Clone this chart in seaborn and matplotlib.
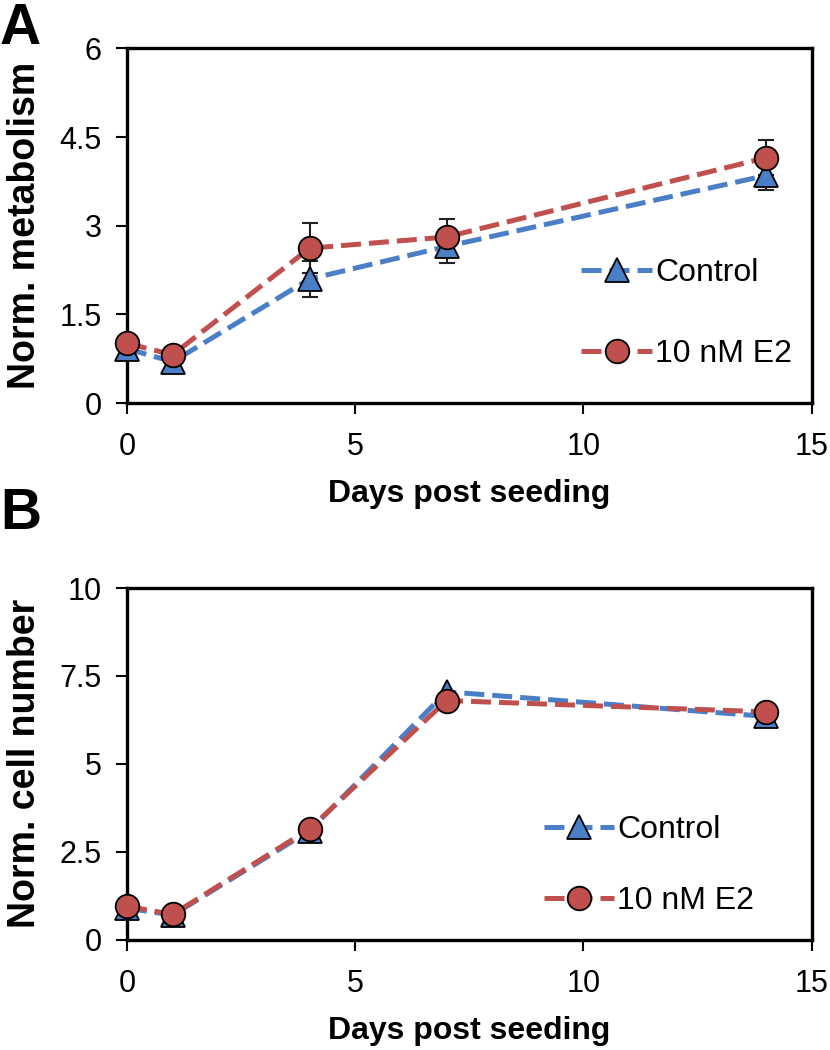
import numpy as np
import pandas as pd
import seaborn as sns
import matplotlib.pyplot as plt

# Days post seeding
days = [0, 1, 4, 7, 14]

# Panel A - normalized metabolism (mean, error)
met_control = [0.92, 0.70, 2.10, 2.65, 3.85]
met_control_err = [0.05, 0.05, 0.30, 0.28, 0.25]
met_e2 = [1.01, 0.82, 2.62, 2.81, 4.15]
met_e2_err = [0.05, 0.05, 0.42, 0.30, 0.30]

# Panel B - normalized cell number
cell_control = [0.90, 0.70, 3.10, 7.05, 6.35]
cell_e2 = [0.95, 0.72, 3.15, 6.80, 6.48]

groups = ["Control", "10 nM E2"]
colors = {"Control": "#4a7fc8", "10 nM E2": "#c0504d"}
markers = {"Control": "^", "10 nM E2": "o"}

sns.set_style("white")
plt.rcParams['font.family'] = ['Liberation Sans', 'DejaVu Sans']
plt.rcParams['text.color'] = 'black'
plt.rcParams['axes.labelcolor'] = 'black'
plt.rcParams['xtick.color'] = 'black'
plt.rcParams['ytick.color'] = 'black'


def panel(ax, ctrl, e2, ctrl_err, e2_err, ylim, yticks, yticklabels, ylabel,
          leg_x, leg_y, leg_space):
    df = pd.DataFrame({
        "day": days * 2,
        "val": ctrl + e2,
        "group": [groups[0]] * len(days) + [groups[1]] * len(days),
    })
    for g, vals, errs in [(groups[0], ctrl, ctrl_err), (groups[1], e2, e2_err)]:
        if errs is not None:
            ax.errorbar(days, vals, yerr=errs, fmt='none', ecolor='#222222',
                        elinewidth=1.5, capsize=6, capthick=1.5, zorder=1)
    sns.lineplot(data=df, x="day", y="val", hue="group", style="group",
                 markers=markers, dashes={g: (4, 1.6) for g in groups},
                 palette=colors, linewidth=3.6, markersize=17,
                 markeredgecolor='black', markeredgewidth=1.3, ax=ax, zorder=3)
    ax.set_xlim(0, 15)
    ax.set_ylim(*ylim)
    ax.set_xticks([0, 5, 10, 15])
    ax.set_yticks(yticks)
    ax.set_yticklabels(yticklabels)
    ax.tick_params(axis='both', labelsize=22, direction='out', length=8, width=1.5,
                   left=True, bottom=True)
    ax.tick_params(axis='y', pad=10)
    ax.tick_params(axis='x', pad=13)
    for s in ax.spines.values():
        s.set_linewidth(2.4)
        s.set_color('black')
    ax.set_xlabel("Days post seeding", fontsize=23, fontweight='bold', labelpad=12)
    ax.set_ylabel(ylabel, fontsize=27, fontweight='bold')
    ax.yaxis.set_label_coords(-0.122, 0.5)
    for line in ax.get_lines():
        line.set_clip_on(False)
    leg = ax.legend(loc='lower left', bbox_to_anchor=(leg_x, leg_y), frameon=False,
                    fontsize=23, handlelength=2.2, labelspacing=leg_space,
                    handletextpad=0.1, borderaxespad=0)
    for h in leg.legend_handles:
        h.set_markeredgecolor('black')
        h.set_markeredgewidth(1.3)


fig = plt.figure(figsize=(8.3, 10.5), dpi=100)
ax1 = fig.add_axes([0.153, 0.616, 0.825, 0.338])
ax2 = fig.add_axes([0.153, 0.105, 0.825, 0.335])

panel(ax1, met_control, met_e2, met_control_err, met_e2_err, (0, 6),
      [0, 1.5, 3, 4.5, 6], ["0", "1.5", "3", "4.5", "6"], "Norm. metabolism",
      0.645, 0.06, 1.6)
panel(ax2, cell_control, cell_e2, None, None, (0, 10),
      [0, 2.5, 5, 7.5, 10], ["0", "2.5", "5", "7.5", "10"], "Norm. cell number",
      0.59, 0.03, 1.3)

fig.text(0.0, 0.998, "A", fontsize=41, fontweight='bold', ha='left', va='top')
fig.text(0.0, 1 - 487 / 1050, "B", fontsize=41, fontweight='bold', ha='left', va='top')

fig.savefig("out.png", dpi=100)
